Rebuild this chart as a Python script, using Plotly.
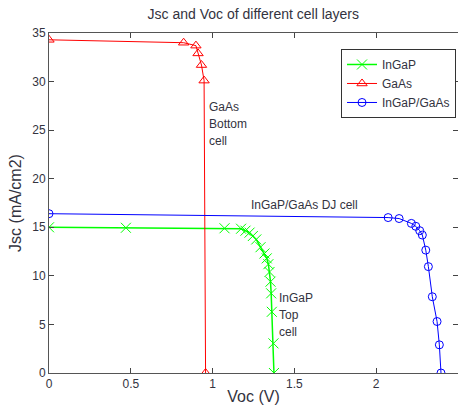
import plotly.graph_objects as go

# ---- data ----
ingap_v = [0, 0.47, 1.073, 1.174, 1.201, 1.226, 1.246, 1.267, 1.293, 1.317, 1.331, 1.341, 1.348, 1.354, 1.358, 1.362, 1.372, 1.375]
ingap_j = [15.0, 14.95, 14.9, 14.85, 14.65, 14.45, 14.1, 13.75, 12.95, 12.3, 11.8, 11.2, 10.4, 9.4, 8.2, 6.3, 3.05, 0]

gaas_v = [0, 0.823, 0.898, 0.911, 0.932, 0.948, 0.957]
gaas_j = [34.3, 34.0, 33.7, 32.9, 31.7, 30.1, 0]

dj_v = [0, 2.073, 2.14, 2.215, 2.242, 2.266, 2.282, 2.303, 2.319, 2.343, 2.372, 2.386, 2.396]
dj_j = [16.4, 16.0, 15.9, 15.4, 15.1, 14.65, 14.2, 12.65, 10.95, 7.85, 5.3, 2.9, 0]

x_ticks = [0, 0.5, 1, 1.5, 2, 2.5]
y_ticks = [0, 5, 10, 15, 20, 25, 30, 35]

# annotation lines: (text, x, y)
label_lines = [
    ("GaAs", 0.966, 27.38), ("Bottom", 0.966, 25.63), ("cell", 0.966, 23.88),
    ("InGaP/GaAs DJ cell", 1.222, 17.3),
    ("InGaP", 1.394, 7.72), ("Top", 1.394, 5.97), ("cell", 1.394, 4.22),
]

FONT = "Liberation Sans, Arial, sans-serif"
TXT = "#333340"

fig = go.Figure()
fig.add_trace(go.Scatter(x=ingap_v, y=ingap_j, name="InGaP", mode="lines+markers",
                         line=dict(color="#00ff00", width=1.5),
                         marker=dict(symbol="x-thin-open", size=10, line=dict(color="#00ff00", width=1))))
fig.add_trace(go.Scatter(x=gaas_v, y=gaas_j, name="GaAs", mode="lines+markers",
                         line=dict(color="#ff0000", width=1),
                         marker=dict(symbol="triangle-up-open", size=9, color="#ff0000", line=dict(width=1))))
fig.add_trace(go.Scatter(x=dj_v, y=dj_j, name="InGaP/GaAs", mode="lines+markers",
                         line=dict(color="#0000ff", width=1),
                         marker=dict(symbol="circle-open", size=8, color="#0000ff", line=dict(width=1))))

ann_font = dict(family=FONT, size=12, color=TXT)
for txt, ax, ay in label_lines:
    fig.add_annotation(x=ax, y=ay, text=txt, showarrow=False,
                       xanchor="left", yanchor="middle", align="left", font=ann_font)

axis_common = dict(showgrid=False, zeroline=False, showline=True, linecolor="#555555", linewidth=1,
                   mirror="ticks", ticks="inside", ticklen=5, tickcolor="#444444",
                   tickfont=dict(family=FONT, size=12, color=TXT))

fig.update_layout(
    width=458, height=407,
    margin=dict(l=49, r=0, t=33, b=34),
    paper_bgcolor="white", plot_bgcolor="white",
    title=dict(text="Jsc and Voc of different cell layers", x=0.553, xanchor="center", y=0.965,
               yanchor="middle", font=dict(family=FONT, size=14, color=TXT)),
    xaxis=dict(range=[0, 2.5], tickvals=x_ticks, ticktext=[str(v) for v in x_ticks],
               title=dict(text="Voc (V)", font=dict(family=FONT, size=16, color=TXT), standoff=0),
               automargin=False, **axis_common),
    yaxis=dict(range=[0, 35], tickvals=y_ticks,
               title=dict(text="Jsc (mA/cm2)", font=dict(family=FONT, size=16, color=TXT), standoff=6),
               automargin=False, **axis_common),
    legend=dict(x=0.714, y=0.953, xanchor="left", yanchor="top", bgcolor="white",
                bordercolor="#333333", borderwidth=1, font=dict(family=FONT, size=12, color=TXT),
                tracegroupgap=0),
    showlegend=True,
)

fig.write_html("out.html", config={"displayModeBar": False},
               post_script="document.body.style.margin='0';document.body.style.overflow='hidden';")
